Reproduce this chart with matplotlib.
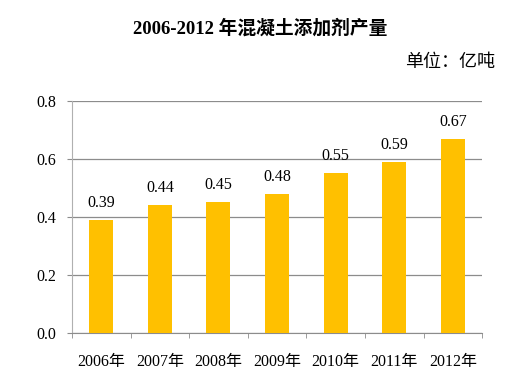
import matplotlib.pyplot as plt
import numpy as np

plt.rcParams['font.family'] = ['Liberation Serif', 'Noto Sans CJK SC']

years = ['2006年', '2007年', '2008年', '2009年', '2010年', '2011年', '2012年']
output = [0.39, 0.44, 0.45, 0.48, 0.55, 0.59, 0.67]

fig = plt.figure(figsize=(5.14, 3.79), dpi=100)
ax = fig.add_axes([0.140, 0.1214, 0.798, 0.6121])

x = np.arange(len(years))
bars = ax.bar(x, output, width=0.41, color='#FFC000', zorder=3)
for xi, v in zip(x, output):
    ax.annotate(f'{v:.2f}', (xi, v), xytext=(0, 6.5), textcoords='offset points',
                ha='center', va='bottom', fontsize=11.5)

ax.set_xlim(-0.5, len(years) - 0.5)
ax.set_ylim(0, 0.8)
ax.set_yticks([0.0, 0.2, 0.4, 0.6, 0.8])
ax.set_yticklabels([f'{t:.1f}' for t in [0.0, 0.2, 0.4, 0.6, 0.8]], fontsize=11.5)
ax.yaxis.grid(True, color='#8c8c8c', linewidth=0.9, zorder=0)
ax.tick_params(axis='y', length=3.6, color='#8c8c8c', pad=8)

ax.set_xticks(x)
ax.set_xticklabels(years, fontsize=11.5)
ax.set_xticks(np.arange(len(years) + 1) - 0.5, minor=True)
ax.tick_params(axis='x', which='major', length=0, pad=15)
ax.tick_params(axis='x', which='minor', length=3.6, color='#8c8c8c')

for s in ['top', 'right']:
    ax.spines[s].set_visible(False)
ax.spines['left'].set_color('#b0b0b0')
ax.spines['bottom'].set_color('#8c8c8c')

fig.text(0.506, 0.926, '2006-2012 年混凝土添加剂产量', ha='center', va='center',
         fontsize=13.5, fontweight='bold')
fig.text(0.963, 0.834, '单位：亿吨', ha='right', va='center', fontsize=13)

fig.savefig('out.png', dpi=100)
